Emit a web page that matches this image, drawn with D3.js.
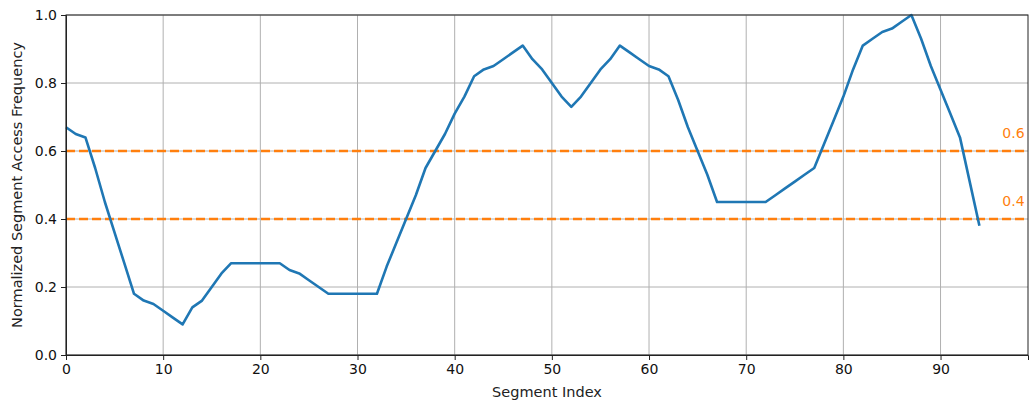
<!DOCTYPE html>
<html>
<head>
<meta charset="utf-8">
<script src="https://cdn.jsdelivr.net/npm/d3@7"></script>
<style>
  body { margin: 0; background: #fff; }
  text { font-family: "DejaVu Sans", sans-serif; }
</style>
</head>
<body>
<div id="chart"></div>
<script>
// segment access frequency
const values = [
  0.67, 0.65, 0.64, 0.55, 0.45, 0.36, 0.27, 0.18, 0.16, 0.15,
  0.13, 0.11, 0.09, 0.14, 0.16, 0.20, 0.24, 0.27, 0.27, 0.27,
  0.27, 0.27, 0.27, 0.25, 0.24, 0.22, 0.20, 0.18, 0.18, 0.18,
  0.18, 0.18, 0.18, 0.26, 0.33, 0.40, 0.47, 0.55, 0.60, 0.65,
  0.71, 0.76, 0.82, 0.84, 0.85, 0.87, 0.89, 0.91, 0.87, 0.84,
  0.80, 0.76, 0.73, 0.76, 0.80, 0.84, 0.87, 0.91, 0.89, 0.87,
  0.85, 0.84, 0.82, 0.75, 0.67, 0.60, 0.53, 0.45, 0.45, 0.45,
  0.45, 0.45, 0.45, 0.47, 0.49, 0.51, 0.53, 0.55, 0.62, 0.69,
  0.76, 0.84, 0.91, 0.93, 0.95, 0.96, 0.98, 1.00, 0.93, 0.85,
  0.78, 0.71, 0.64, 0.51, 0.38
];
const thresholds = [0.6, 0.4];
const xTicks = [0, 10, 20, 30, 40, 50, 60, 70, 80, 90];
const yTicks = [0.0, 0.2, 0.4, 0.6, 0.8, 1.0];

const w = 1029;
const h = 403;
const margin = { top: 15, right: 1, bottom: 48, left: 66 };

const x = d3.scaleLinear().domain([0, 99]).range([margin.left, w - margin.right]);
const y = d3.scaleLinear().domain([0, 1]).range([h - margin.bottom, margin.top]);

const svg = d3.select("#chart").append("svg").attr("width", w).attr("height", h);

// grid
svg.append("g")
  .selectAll("line.gx")
  .data(xTicks)
  .join("line")
  .attr("x1", d => x(d)).attr("x2", d => x(d))
  .attr("y1", margin.top).attr("y2", h - margin.bottom)
  .attr("stroke", "#b0b0b0").attr("stroke-width", 1);

svg.append("g")
  .selectAll("line.gy")
  .data(yTicks)
  .join("line")
  .attr("x1", margin.left).attr("x2", w - margin.right)
  .attr("y1", d => y(d)).attr("y2", d => y(d))
  .attr("stroke", "#b0b0b0").attr("stroke-width", 1);

// threshold lines
svg.append("g")
  .selectAll("line")
  .data(thresholds)
  .join("line")
  .attr("x1", margin.left).attr("x2", w - margin.right)
  .attr("y1", d => y(d)).attr("y2", d => y(d))
  .attr("stroke", "#ff7f0e").attr("stroke-width", 2.5)
  .attr("stroke-dasharray", "9,4");

svg.append("g")
  .selectAll("text")
  .data(thresholds)
  .join("text")
  .attr("x", x(97.5))
  .attr("y", d => y(d + 0.05))
  .attr("text-anchor", "middle")
  .attr("dominant-baseline", "middle")
  .attr("fill", "#ff7f0e")
  .style("font-size", "14px")
  .text(d => d.toFixed(1));

// main line
const line = d3.line().x((d, i) => x(i)).y(d => y(d));
svg.append("path")
  .datum(values)
  .attr("d", line)
  .attr("fill", "none")
  .attr("stroke", "#1f77b4")
  .attr("stroke-width", 2.6)
  .attr("stroke-linejoin", "round");

// frame
svg.append("rect")
  .attr("x", margin.left).attr("y", margin.top)
  .attr("width", w - margin.right - margin.left)
  .attr("height", h - margin.bottom - margin.top)
  .attr("fill", "none").attr("stroke", "#222").attr("stroke-width", 1);

// axes
const xAxis = svg.append("g")
  .attr("transform", `translate(0, ${h - margin.bottom})`)
  .call(d3.axisBottom(x).tickValues(xTicks).tickSize(5).tickPadding(4).tickFormat(d3.format("d")));
const yAxis = svg.append("g")
  .attr("transform", `translate(${margin.left}, 0)`)
  .call(d3.axisLeft(y).tickValues(yTicks).tickSize(5).tickPadding(4).tickFormat(d3.format(".1f")));

[xAxis, yAxis].forEach(g => {
  g.select(".domain").attr("stroke", "#222");
  g.selectAll(".tick line").attr("stroke", "#222");
  g.selectAll(".tick text")
    .attr("fill", "#111")
    .style("font-family", "'DejaVu Sans', sans-serif")
    .style("font-size", "14px");
});

svg.append("text")
  .attr("x", (margin.left + w - margin.right) / 2)
  .attr("y", 397)
  .attr("text-anchor", "middle")
  .attr("fill", "#222")
  .style("font-size", "14.5px")
  .text("Segment Index");

svg.append("text")
  .attr("transform", `translate(22, ${(margin.top + h - margin.bottom) / 2}) rotate(-90)`)
  .attr("text-anchor", "middle")
  .attr("fill", "#222")
  .style("font-size", "14.5px")
  .text("Normalized Segment Access Frequency");
</script>
</body>
</html>
